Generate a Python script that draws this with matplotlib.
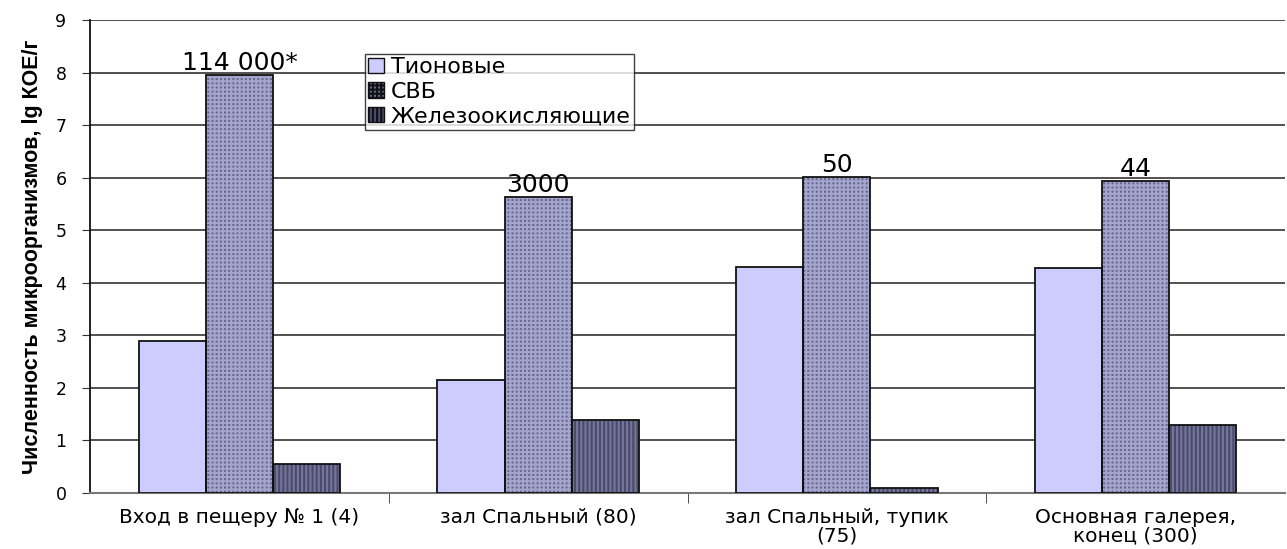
import matplotlib
matplotlib.use("Agg")
import matplotlib.pyplot as plt
import numpy as np
from matplotlib.patches import Patch

categories = ["Вход в пещеру № 1 (4)", "зал Спальный (80)",
              "зал Спальный, тупик\n(75)", "Основная галерея,\nконец (300)"]
series_names = ["Тионовые", "СВБ", "Железоокисляющие"]
tionovye = [2.9, 2.15, 4.3, 4.28]
svb = [7.95, 5.63, 6.02, 5.93]
zhelezo = [0.55, 1.38, 0.1, 1.3]
svb_labels = ["114 000*", "3000", "50", "44"]
yticks = list(range(0, 10))

plt.rcParams['font.family'] = ['DejaVu Sans']
plt.rcParams['hatch.linewidth'] = 1.5

fig = plt.figure(figsize=(12.87, 5.49), dpi=100)
ax = fig.add_axes([90/1287, 1-493/549, (1285-90)/1287, (493-20)/549])

x = np.arange(len(categories))
w = 0.225
styles = [
    dict(color='#CCCCFF', hatch=None, hcol=None),
    dict(color='#66668F', hatch='++++', hcol='#A4A4CC'),
    dict(color='#4A4A6C', hatch='||||', hcol='#76769A'),
]
data = [tionovye, svb, zhelezo]
for i, (vals, st) in enumerate(zip(data, styles)):
    pos = x + (i - 1) * w
    if st['hatch']:
        ax.bar(pos, vals, w, color=st['color'], hatch=st['hatch'],
               edgecolor=st['hcol'], linewidth=0, zorder=3)
    else:
        ax.bar(pos, vals, w, color=st['color'], linewidth=0, zorder=3)
    b = ax.bar(pos, vals, w, facecolor='none', edgecolor='#111111',
               linewidth=1.3, zorder=4)
    if i == 1:
        svb_bars = b

handles = []
for name, st in zip(series_names, styles):
    if st['hatch']:
        handles.append(Patch(facecolor=st['color'], hatch=st['hatch'],
                             edgecolor='#111111', linewidth=1.0, label=name))
    else:
        handles.append(Patch(facecolor=st['color'], edgecolor='#111111',
                             linewidth=1.0, label=name))

for rect, lab in zip(svb_bars, svb_labels):
    ax.text(rect.get_x() + rect.get_width()/2, rect.get_height(), lab,
            ha='center', va='bottom', fontsize=18)

ax.set_ylim(0, 9)
ax.set_xlim(-0.5, len(categories) - 0.5)
ax.set_yticks(yticks)
ax.set_yticklabels([str(t) for t in yticks], fontsize=12.5)
ax.yaxis.grid(True, color='#333333', linewidth=1.2, zorder=0)
ax.set_axisbelow(True)
ax.set_xticks(x)
ax.set_xticklabels(categories, fontsize=14.5, linespacing=1.0)
ax.tick_params(axis='x', length=0, pad=10.5)
ax.tick_params(axis='y', length=6, direction='out', color='#333333', pad=11)
ax.set_xticks(np.arange(0.5, len(categories) - 0.5, 1), minor=True)
ax.tick_params(axis='x', which='minor', length=7, direction='out', color='#333333')
for s in ['top', 'right']:
    ax.spines[s].set_visible(False)
ax.spines['left'].set_color('#111111')
ax.spines['left'].set_linewidth(1.3)
ax.spines['bottom'].set_color('#777777')
ax.spines['bottom'].set_linewidth(1.5)

ax.set_ylabel("Численность микроорганизмов, lg КОЕ/г", fontsize=15.5,
              fontweight='bold', family=['Liberation Sans', 'DejaVu Sans'],
              labelpad=9)

leg = ax.legend(handles=handles, loc='upper left',
                bbox_to_anchor=((365-90)/1195, (493-54)/473),
                fontsize=16, frameon=True, fancybox=False, edgecolor='#111111',
                borderpad=0.15, labelspacing=0.2, handlelength=0.7,
                handleheight=0.7, handletextpad=0.3, borderaxespad=0)
leg.get_frame().set_linewidth(1.0)

fig.savefig("out.png", dpi=100)
